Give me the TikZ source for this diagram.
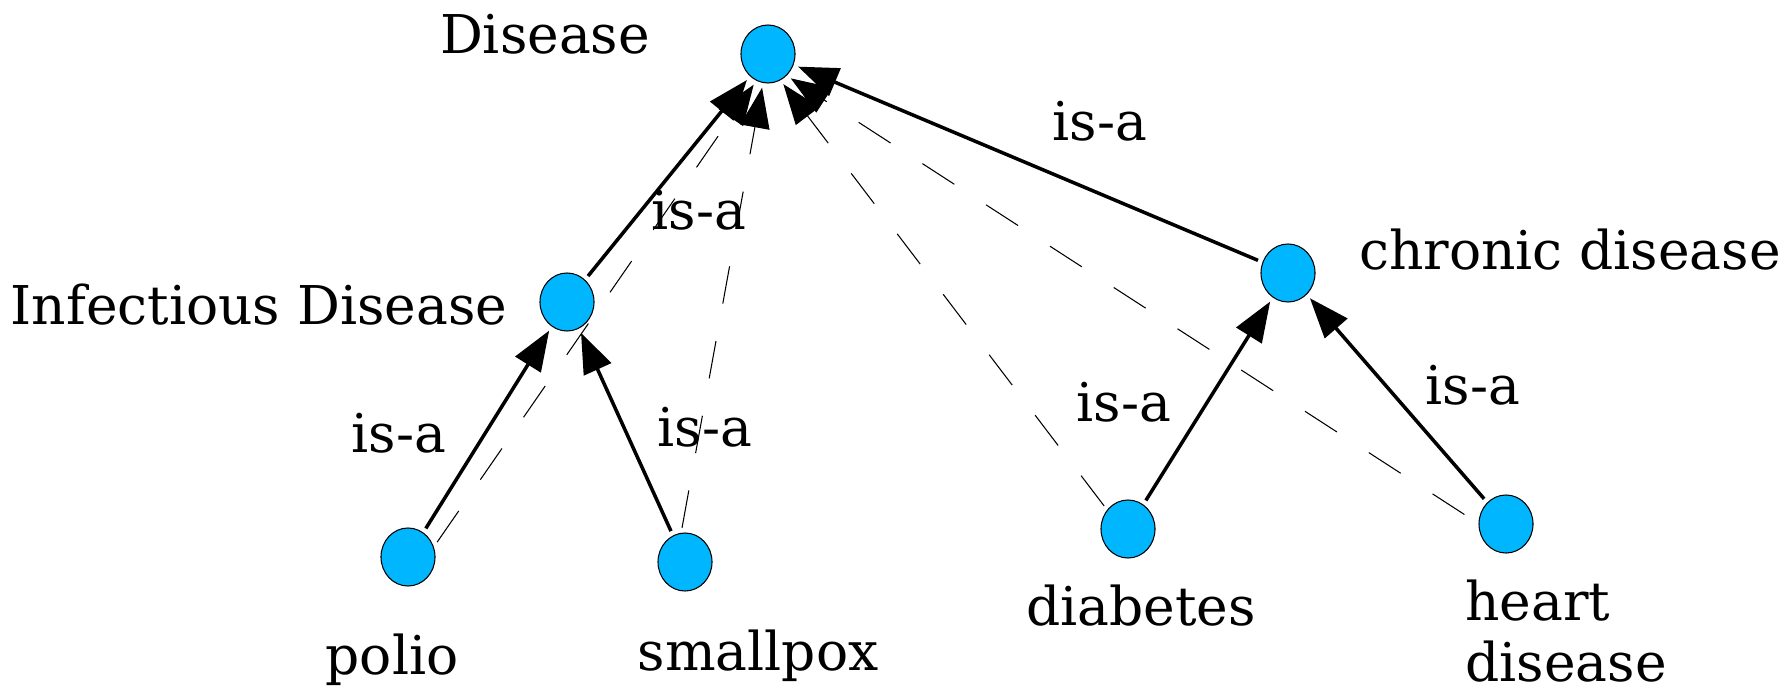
\documentclass[tikz,border=0pt]{standalone}
\usepackage{fontspec}
\setmainfont{DejaVu Serif}
\usetikzlibrary{positioning,shapes.geometric,arrows.meta}
\definecolor{conceptblue}{RGB}{0,183,255}

\begin{document}
\begin{tikzpicture}[x=0.01cm,y=-0.01cm,
    concept/.style={ellipse,draw=black,line width=0.3pt,fill=conceptblue,
        minimum width=0.54cm,minimum height=0.58cm,inner sep=0pt,outer sep=1.5pt},
    lbl/.style={font=\fontsize{15.2}{17.5}\selectfont,inner sep=0pt},
    isa/.style={line width=1pt,-{Triangle[length=11.4pt,width=8.4pt]}},
    infer/.style={line width=0.3pt,dash pattern=on 10.8pt off 10.8pt,
        -{Triangle[length=11.4pt,width=8.4pt]}}]
    \useasboundingbox (0,0) rectangle (1791,691);

    % Concepts
    \node[concept] (dis) at (768,54) {};
    \node[concept] (inf) at (567,302) {};
    \node[concept] (chr) at (1288,273) {};
    \node[concept] (pol) at (408,557) {};
    \node[concept] (sma) at (685,562) {};
    \node[concept] (dia) at (1128,529) {};
    \node[concept] (hea) at (1506,524) {};

    % Concept names
    \node[lbl] (disname) at (545,34) {Disease};
    \node[lbl] (infname) at (259,305) {Infectious Disease};
    \node[lbl] (chrname) at (1570,250) {chronic disease};
    \node[lbl] (polname) at (392,660) {polio};
    \node[lbl] (smaname) at (758,656) {smallpox};
    \node[lbl] (dianame) at (1141,606) {diabetes};
    \node[lbl,align=left] (heaname) at (1566,631) {heart\\disease};

    % Asserted is-a links
    \draw[isa] (inf) -- (dis);
    \draw[isa] (chr) -- (dis);
    \draw[isa] (pol) -- (inf);
    \draw[isa] (sma) -- (inf);
    \draw[isa] (dia) -- (chr);
    \draw[isa] (hea) -- (chr);

    % Inferred links
    \draw[infer] (pol.27) -- (dis.245);
    \draw[infer] (sma.95) -- (dis.260);
    \draw[infer] (dia.136) -- (dis.297);
    \draw[infer] ([xshift=-3pt]hea.163) -- (dis.313);

    % Link labels
    \node[lbl] (isa1) at (1100,121) {is-a};
    \node[lbl] (isa2) at (699,210) {is-a};
    \node[lbl] (isa3) at (399,433) {is-a};
    \node[lbl] (isa4) at (705,427) {is-a};
    \node[lbl] (isa5) at (1124,402) {is-a};
    \node[lbl] (isa6) at (1473,385) {is-a};
\end{tikzpicture}
\end{document}
